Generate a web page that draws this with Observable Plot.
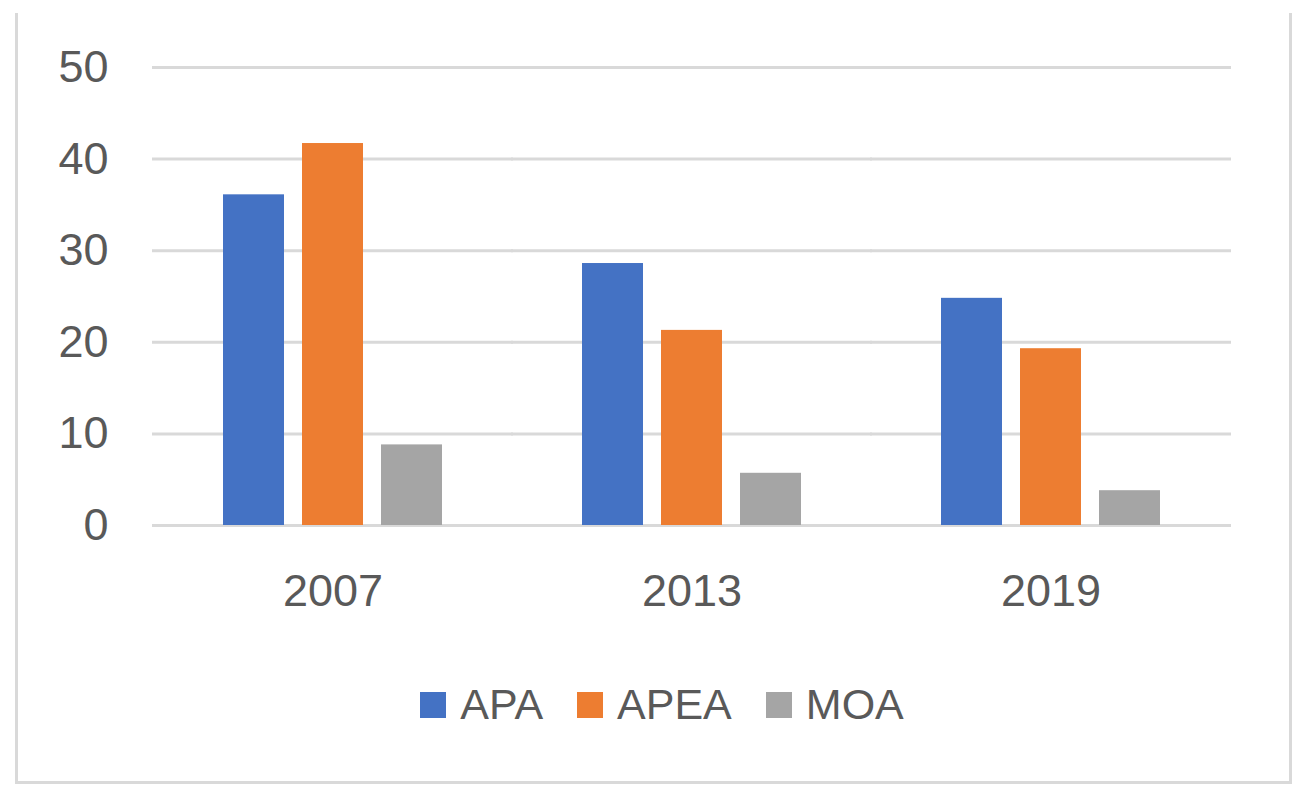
<!DOCTYPE html>
<html>
<head>
<meta charset="utf-8">
<script src="https://cdn.jsdelivr.net/npm/d3@7"></script>
<script src="https://cdn.jsdelivr.net/npm/@observablehq/plot@0.6"></script>
<style>
  html, body { margin: 0; padding: 0; background: #fff; }
  #wrap { position: relative; width: 1314px; height: 805px; overflow: hidden; font-family: "Liberation Sans", Arial, sans-serif; }
  #border { position: absolute; left: 15px; top: 13px; width: 1277px; height: 771px; border: 3px solid #d9d9d9; border-top: none; box-sizing: border-box; }
  #chart { position: absolute; left: 0; top: 0; }
  #legend { position: absolute; left: 0; top: 680px; width: 1314px; display: flex; justify-content: center; padding-left: 10px; box-sizing: border-box; color: #595959; font-size: 43px; }
  .item { display: flex; align-items: center; margin: 0 17px; }
  .sw { width: 26px; height: 26px; margin-right: 14px; }
</style>
</head>
<body>
<div id="wrap">
  <div id="border"></div>
  <div id="chart"></div>
  <div id="legend"></div>
</div>
<script>
const years = ["2007", "2013", "2019"];
const series = ["APA", "APEA", "MOA"];
const apa = [36.1, 28.6, 24.8];
const apea = [41.7, 21.3, 19.3];
const moa = [8.8, 5.7, 3.8];
const colors = ["#4472C4", "#ED7D31", "#A5A5A5"];
const yTicks = [0, 10, 20, 30, 40, 50];

const valuesBySeries = [apa, apea, moa];
const data = [];
years.forEach((yr, i) => {
  series.forEach((s, j) => {
    data.push({year: yr, series: s, value: valuesBySeries[j][i]});
  });
});

const gap = 70; // half the gap between year groups, so gridlines join across facets

const chart = Plot.plot({
  width: 1314,
  height: 640,
  marginLeft: 152,
  marginRight: 84,
  marginTop: 67,
  marginBottom: 115,
  style: {fontFamily: "Liberation Sans, Arial, sans-serif", fontSize: "45px", color: "#595959", background: "transparent", overflow: "visible"},
  fx: {domain: years, paddingInner: 0.385, paddingOuter: 0.1925, label: null, tickSize: 0, tickPadding: 49},
  x: {domain: series, paddingInner: 0.225, paddingOuter: 0, axis: null},
  y: {domain: [0, 50], ticks: yTicks, tickSize: 0, tickPadding: 114, label: null, fontSize: 47},
  color: {domain: series, range: colors},
  marks: [
    Plot.ruleY(yTicks, {stroke: "#d9d9d9", strokeWidth: 3, insetLeft: -gap, insetRight: -gap}),
    Plot.barY(data, {fx: "year", x: "series", y: "value", fill: "series"})
  ]
});
document.getElementById("chart").appendChild(chart);

const legend = document.getElementById("legend");
series.forEach((s, j) => {
  const item = document.createElement("div");
  item.className = "item";
  const sw = document.createElement("div");
  sw.className = "sw";
  sw.style.background = colors[j];
  const t = document.createElement("span");
  t.textContent = s;
  item.appendChild(sw);
  item.appendChild(t);
  legend.appendChild(item);
});
</script>
</body>
</html>
